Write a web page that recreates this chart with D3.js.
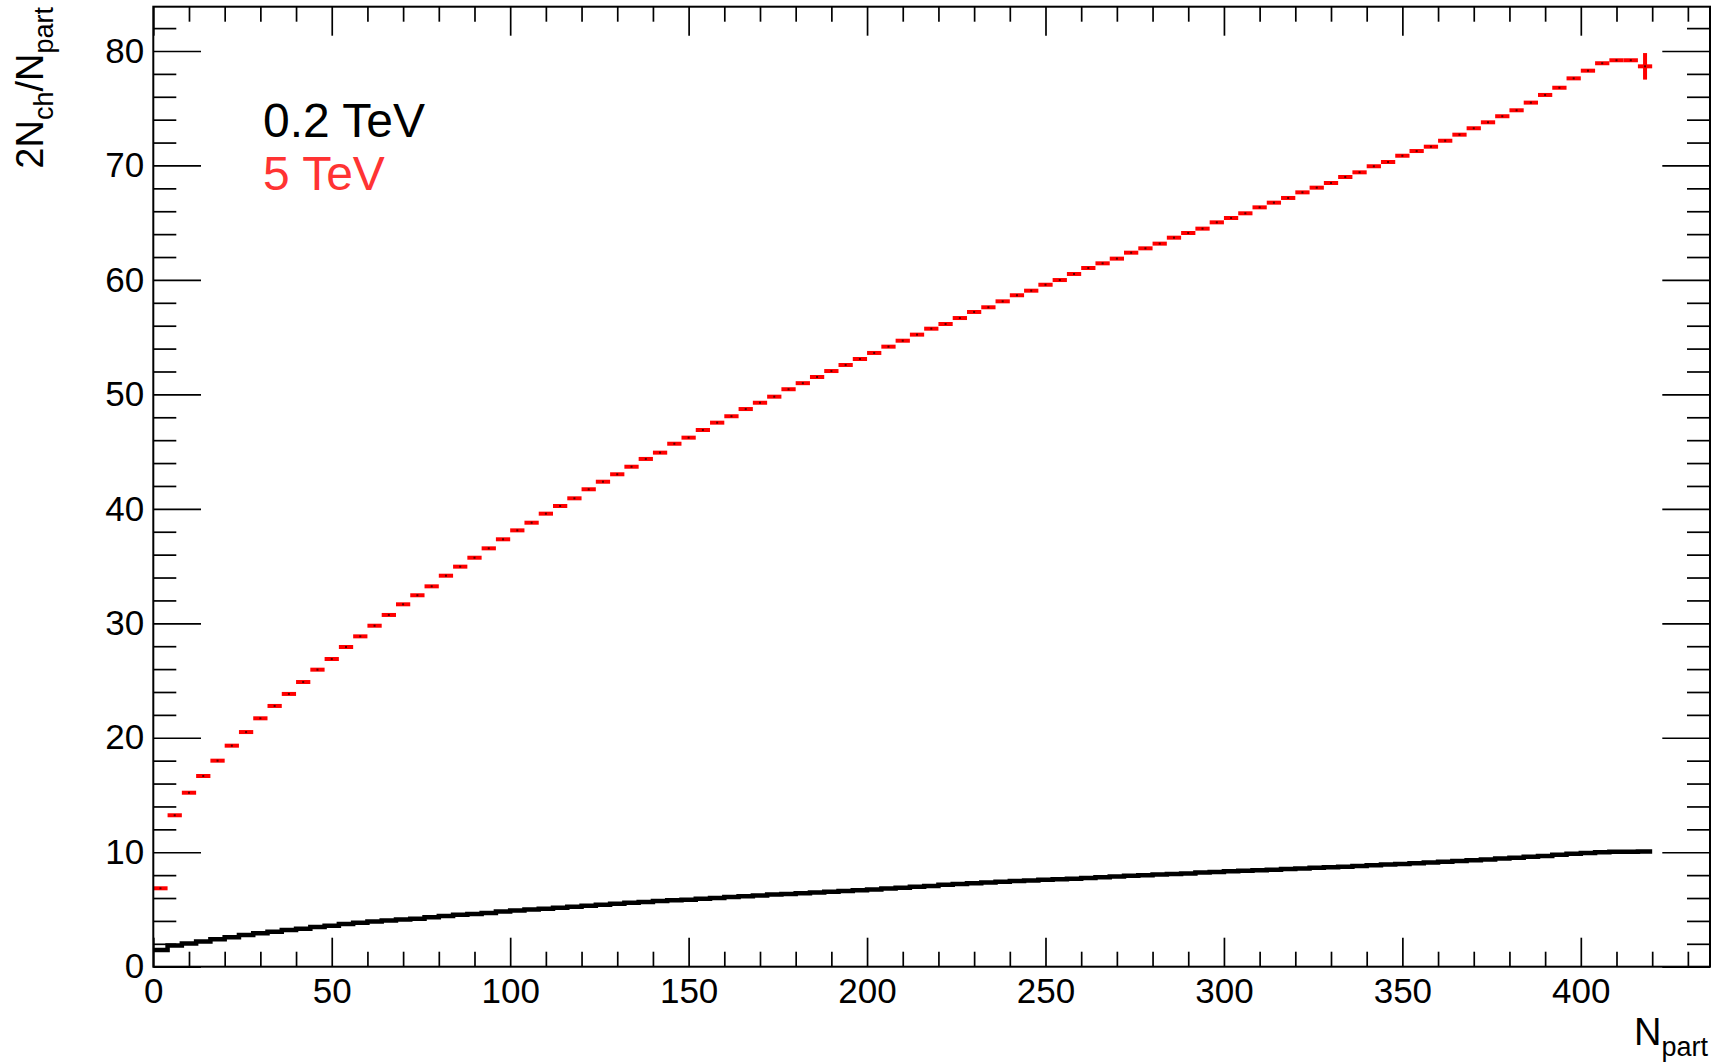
<!DOCTYPE html>
<html>
<head>
<meta charset="utf-8">
<script src="https://cdn.jsdelivr.net/npm/d3@7"></script>
<style>
  html, body { margin: 0; padding: 0; background: #fff; }
  svg { display: block; }
  text { font-family: "Liberation Sans", Arial, Helvetica, sans-serif; }
</style>
</head>
<body>
<svg id="chart" width="1719" height="1062"></svg>
<script>
// Histogram binning in N_part: 105 bins of width 4 from 0 to 420
const binWidth = 4;
const binLow = d3.range(0, 420, binWidth);

// 2N_ch/N_part per bin, 0.2 TeV (drawn as a stepped line)
const low = [
  1.46, 1.85, 2.02, 2.20, 2.39, 2.57, 2.76, 2.92, 3.06, 3.20,
  3.32, 3.46, 3.58, 3.72, 3.84, 3.95, 4.04, 4.12, 4.20, 4.31,
  4.43, 4.53, 4.61, 4.69, 4.83, 4.92, 4.99, 5.07, 5.15, 5.23,
  5.33, 5.41, 5.49, 5.58, 5.66, 5.73, 5.80, 5.86, 5.93, 6.01,
  6.08, 6.16, 6.23, 6.30, 6.36, 6.42, 6.48, 6.55, 6.62, 6.68,
  6.74, 6.83, 6.89, 6.98, 7.06, 7.16, 7.23, 7.29, 7.35, 7.43,
  7.48, 7.54, 7.59, 7.65, 7.69, 7.74, 7.81, 7.87, 7.94, 7.99,
  8.05, 8.10, 8.15, 8.22, 8.28, 8.33, 8.38, 8.43, 8.47, 8.53,
  8.59, 8.64, 8.69, 8.74, 8.80, 8.86, 8.92, 8.97, 9.03, 9.10,
  9.16, 9.23, 9.29, 9.37, 9.45, 9.52, 9.60, 9.67, 9.77, 9.86,
  9.93, 10.00, 10.04, 10.05, 10.06
];

// 2N_ch/N_part per bin, 5 TeV (drawn as points with bin-width error bars)
const high = [
  6.85, 13.23, 15.20, 16.66, 18.00, 19.31, 20.50, 21.70, 22.78, 23.83,
  24.87, 25.95, 26.88, 27.93, 28.86, 29.79, 30.73, 31.66, 32.45, 33.23,
  34.16, 34.95, 35.73, 36.55, 37.34, 38.12, 38.79, 39.58, 40.25, 40.92,
  41.71, 42.37, 43.02, 43.68, 44.36, 44.91, 45.69, 46.22, 46.89, 47.53,
  48.09, 48.72, 49.27, 49.80, 50.45, 50.98, 51.52, 52.04, 52.57, 53.09,
  53.62, 54.17, 54.69, 55.22, 55.74, 56.15, 56.67, 57.20, 57.61, 58.13,
  58.66, 59.06, 59.58, 59.99, 60.52, 61.04, 61.45, 61.86, 62.38, 62.76,
  63.17, 63.69, 64.10, 64.48, 65.03, 65.41, 65.82, 66.34, 66.75, 67.16,
  67.65, 68.06, 68.47, 68.99, 69.40, 69.93, 70.30, 70.85, 71.26, 71.64,
  72.16, 72.69, 73.25, 73.77, 74.30, 74.82, 75.49, 76.16, 76.79, 77.61,
  78.28, 78.93, 79.19, 79.19, 78.66
];

// statistical errors of the 5 TeV points (only the last bin is large enough to show)
const highErr = [
  0, 0, 0, 0, 0, 0, 0, 0, 0, 0, 0, 0, 0, 0, 0, 0, 0, 0, 0, 0,
  0, 0, 0, 0, 0, 0, 0, 0, 0, 0, 0, 0, 0, 0, 0, 0, 0, 0, 0, 0,
  0, 0, 0, 0, 0, 0, 0, 0, 0, 0, 0, 0, 0, 0, 0, 0, 0, 0, 0, 0,
  0, 0, 0, 0, 0, 0, 0, 0, 0, 0, 0, 0, 0, 0, 0, 0, 0, 0, 0, 0,
  0, 0, 0, 0, 0, 0, 0, 0, 0, 0, 0, 0, 0, 0, 0, 0, 0, 0, 0, 0,
  0, 0, 0, 0, 1.16
];

const xMajor = [0, 50, 100, 150, 200, 250, 300, 350, 400];
const yMajor = [0, 10, 20, 30, 40, 50, 60, 70, 80];
const xMinor = d3.range(0, 437, 10).filter(v => v % 50 !== 0);
const yMinor = d3.range(0, 84, 2).filter(v => v % 10 !== 0);

const legendLabels = ["0.2 TeV", "5 TeV"];
const legendColors = ["#000000", "#ff3333"];

// frame geometry
const frame = { left: 153.3, right: 1710, top: 6.7, bottom: 966.7 };
const xDomain = [0, 436.2];
const yDomain = [0, 83.87];

const svg = d3.select("#chart");

const x = d3.scaleLinear().domain(xDomain).range([frame.left, frame.right]);
const y = d3.scaleLinear().domain(yDomain).range([frame.bottom, frame.top]);

// ---- data: 0.2 TeV stepped histogram line ----
const stepPts = [];
low.forEach((v, i) => {
  stepPts.push([binLow[i], v]);
  stepPts.push([binLow[i] + binWidth, v]);
});
const stepLine = d3.line().x(d => x(d[0])).y(d => y(d[1]));
svg.append("path")
  .attr("d", stepLine(stepPts))
  .attr("fill", "none")
  .attr("stroke", "#000")
  .attr("stroke-width", 4.5)
  .attr("stroke-linejoin", "miter");

// ---- data: 5 TeV points with horizontal (bin width) and vertical error bars ----
const pts = svg.append("g");
high.forEach((v, i) => {
  pts.append("line")
    .attr("x1", x(binLow[i])).attr("x2", x(binLow[i] + binWidth))
    .attr("y1", y(v)).attr("y2", y(v))
    .attr("stroke", "#ff0000").attr("stroke-width", 4);
  if (highErr[i] > 0) {
    const xc = x(binLow[i] + binWidth / 2);
    pts.append("line")
      .attr("x1", xc).attr("x2", xc)
      .attr("y1", y(v - highErr[i])).attr("y2", y(v + highErr[i]))
      .attr("stroke", "#ff0000").attr("stroke-width", 4);
  }
  const xc = x(binLow[i] + binWidth / 2);
  pts.append("rect")
    .attr("x", xc - 1).attr("y", y(v) - 1)
    .attr("width", 2).attr("height", 2)
    .attr("fill", "#1a0000").attr("opacity", 0.75);
});

// ---- axes (ticks pointing inward on all four sides) ----
function styleAxis(g) {
  g.select(".domain").remove();
  g.selectAll(".tick line").attr("stroke", "#000").attr("stroke-width", 1.7);
}

// bottom
svg.append("g").attr("transform", `translate(0,${frame.bottom})`)
  .call(d3.axisBottom(x).tickValues(xMinor).tickFormat("").tickSizeInner(-15).tickSizeOuter(0))
  .call(styleAxis);
const bx = svg.append("g").attr("transform", `translate(0,${frame.bottom})`)
  .call(d3.axisBottom(x).tickValues(xMajor).tickFormat(d3.format("d")).tickSizeInner(-29).tickSizeOuter(0).tickPadding(11.5))
  .call(styleAxis);
bx.selectAll(".tick text").attr("font-size", 35).attr("fill", "#000")
  .style("font-family", '"Liberation Sans", Arial, sans-serif');

// top
svg.append("g").attr("transform", `translate(0,${frame.top})`)
  .call(d3.axisTop(x).tickValues(xMinor).tickFormat("").tickSizeInner(-15).tickSizeOuter(0))
  .call(styleAxis);
svg.append("g").attr("transform", `translate(0,${frame.top})`)
  .call(d3.axisTop(x).tickValues(xMajor).tickFormat("").tickSizeInner(-29).tickSizeOuter(0))
  .call(styleAxis);

// left
svg.append("g").attr("transform", `translate(${frame.left},0)`)
  .call(d3.axisLeft(y).tickValues(yMinor).tickFormat("").tickSizeInner(-23).tickSizeOuter(0))
  .call(styleAxis);
const ly = svg.append("g").attr("transform", `translate(${frame.left},0)`)
  .call(d3.axisLeft(y).tickValues(yMajor).tickFormat(d3.format("d")).tickSizeInner(-47.7).tickSizeOuter(0).tickPadding(9))
  .call(styleAxis);
ly.selectAll(".tick text").attr("font-size", 35).attr("fill", "#000")
  .style("font-family", '"Liberation Sans", Arial, sans-serif');

// right
svg.append("g").attr("transform", `translate(${frame.right},0)`)
  .call(d3.axisRight(y).tickValues(yMinor).tickFormat("").tickSizeInner(-23).tickSizeOuter(0))
  .call(styleAxis);
svg.append("g").attr("transform", `translate(${frame.right},0)`)
  .call(d3.axisRight(y).tickValues(yMajor).tickFormat("").tickSizeInner(-47.7).tickSizeOuter(0))
  .call(styleAxis);

// frame
svg.append("rect")
  .attr("x", frame.left).attr("y", frame.top)
  .attr("width", frame.right - frame.left).attr("height", frame.bottom - frame.top)
  .attr("fill", "none").attr("stroke", "#000").attr("stroke-width", 2);

// ---- axis titles ----
const xt = svg.append("text")
  .attr("x", 1708).attr("y", 1045)
  .attr("text-anchor", "end").attr("fill", "#000");
xt.append("tspan").attr("font-size", 38).text("N");
xt.append("tspan").attr("font-size", 27).attr("dy", 11).text("part");

const yt = svg.append("text")
  .attr("transform", "translate(43,7) rotate(-90)")
  .attr("text-anchor", "end").attr("fill", "#000");
yt.append("tspan").attr("font-size", 38).text("2N");
yt.append("tspan").attr("font-size", 27).attr("dy", 10).text("ch");
yt.append("tspan").attr("font-size", 38).attr("dy", -10).text("/N");
yt.append("tspan").attr("font-size", 27).attr("dy", 10).text("part");

// ---- legend labels ----
legendLabels.forEach((t, i) => {
  svg.append("text")
    .attr("x", 263).attr("y", 137 + i * 53)
    .attr("font-size", 48)
    .attr("fill", legendColors[i])
    .text(t);
});
</script>
</body>
</html>
